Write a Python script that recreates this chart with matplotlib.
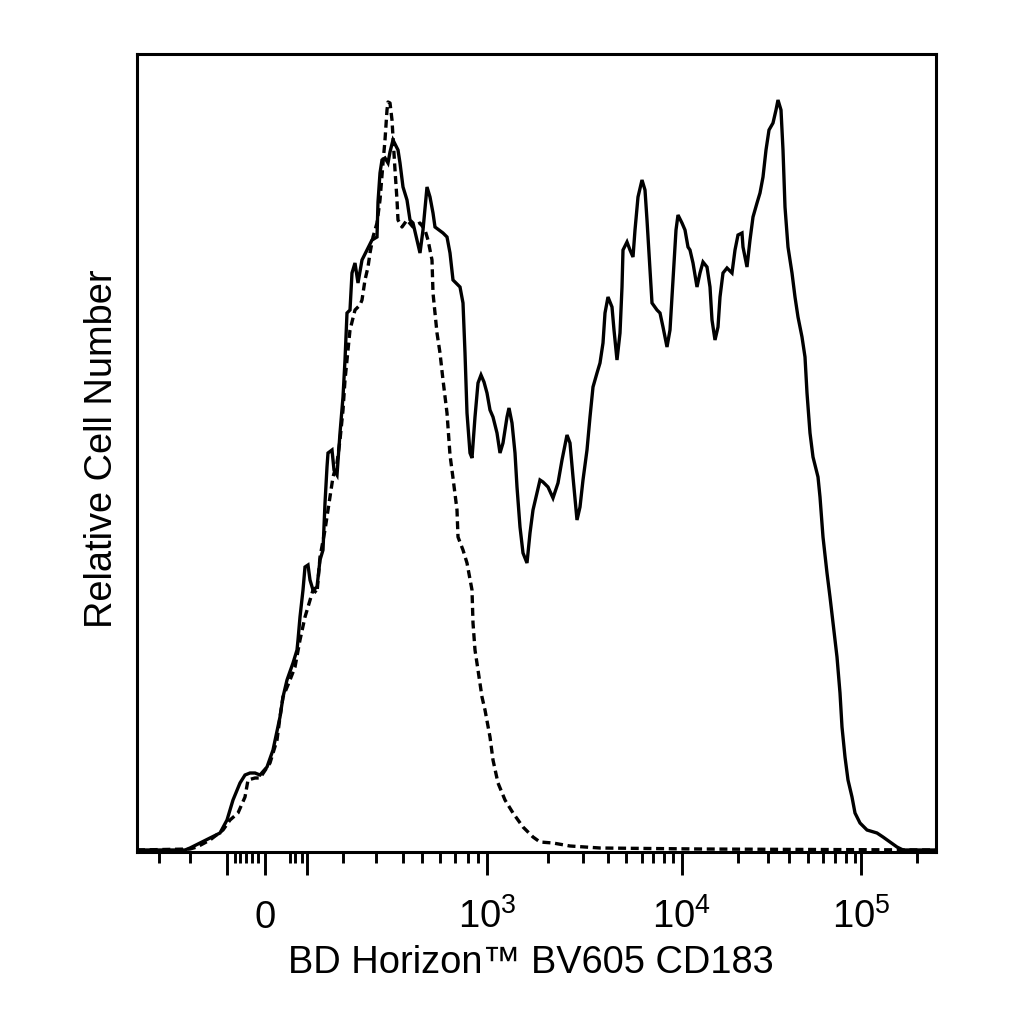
import matplotlib
matplotlib.use("Agg")
import matplotlib.pyplot as plt

plt.rcParams['font.family'] = ['Liberation Sans', 'DejaVu Sans']
plt.rcParams['mathtext.fontset'] = 'custom'
plt.rcParams['mathtext.rm'] = 'Liberation Sans'
plt.rcParams['mathtext.it'] = 'Liberation Sans:italic'
plt.rcParams['mathtext.bf'] = 'Liberation Sans:bold'

# ---- data (biexponential display channel vs relative count) ----
stained_channel = [0, 48, 53, 63, 73, 83, 90, 96, 103, 108, 113, 118, 123, 130, 136, 143, 146, 150,
                   156, 160, 161, 163, 166, 168, 171, 173, 176, 180, 183, 186, 188, 190, 191, 195,
                   197, 200, 203, 206, 208, 210, 213, 215, 218, 221, 225, 230, 235, 240, 241, 243,
                   245, 248, 251, 253, 256, 261, 263, 266, 270, 273, 276, 280, 283, 286, 290, 293,
                   296, 298, 306, 310, 313, 316, 323, 326, 328, 330, 333, 335, 338, 341, 344, 347,
                   350, 353, 356, 360, 363, 366, 370, 372, 375, 378, 380, 383, 386, 390, 393, 396,
                   400, 403, 406, 411, 416, 421, 425, 430, 433, 436, 440, 443, 446, 450, 453, 456,
                   460, 463, 466, 468, 471, 475, 477, 480, 483, 485, 486, 490, 493, 496, 498, 501,
                   505, 508, 510, 513, 515, 520, 523, 526, 530, 533, 536, 539, 541, 545, 548, 551,
                   553, 556, 560, 563, 566, 570, 573, 575, 578, 581, 583, 586, 590, 595, 598, 601,
                   605, 606, 610, 613, 616, 620, 623, 626, 629, 632, 636, 639, 641, 644, 646, 648,
                   651, 655, 658, 661, 665, 668, 670, 673, 676, 681, 683, 686, 690, 693, 696, 700,
                   703, 705, 708, 711, 715, 718, 723, 730, 740, 746, 753, 760, 766, 799]
stained_count = [2, 2, 4, 9, 14, 19, 32, 52, 69, 77, 79, 79, 77, 85, 102, 135, 155, 172,
                 189, 202, 212, 235, 262, 285, 287, 272, 262, 265, 292, 302, 349, 385, 399, 402,
                 382, 377, 419, 455, 492, 539, 542, 579, 589, 569, 592, 602, 612, 615, 650, 679,
                 692, 694, 689, 700, 712, 702, 689, 665, 652, 632, 629, 612, 599, 622, 665, 655,
                 639, 625, 619, 615, 599, 572, 565, 549, 499, 439, 399, 394, 435, 469, 477, 470,
                 459, 442, 435, 419, 399, 409, 435, 444, 429, 399, 365, 325, 299, 289, 319, 342,
                 359, 372, 370, 365, 354, 369, 392, 417, 409, 375, 332, 345, 372, 402, 435, 465,
                 479, 489, 509, 539, 555, 545, 522, 492, 519, 565, 602, 610, 602, 595, 622, 655,
                 672, 662, 632, 582, 549, 542, 539, 525, 505, 522, 572, 622, 637, 629, 622, 605,
                 602, 589, 565, 579, 590, 585, 565, 532, 512, 525, 555, 579, 584, 579, 602, 617,
                 619, 605, 585, 612, 635, 649, 659, 675, 702, 722, 729, 742, 752, 742, 702, 645,
                 605, 579, 555, 535, 515, 495, 459, 419, 395, 375, 355, 315, 279, 255, 229, 195,
                 159, 125, 95, 72, 55, 39, 29, 22, 19, 15, 10, 5, 2, 2]

control_channel = [0, 53, 60, 73, 86, 93, 101, 108, 111, 118, 123, 133, 140, 143, 146, 153, 158,
                   163, 168, 171, 176, 180, 183, 188, 191, 196, 200, 203, 206, 208, 213, 218, 223,
                   225, 228, 231, 233, 236, 240, 243, 246, 248, 250, 251, 253, 255, 256, 258, 260,
                   261, 265, 270, 276, 283, 288, 291, 295, 296, 298, 300, 303, 306, 310, 313, 316,
                   320, 321, 326, 330, 335, 336, 338, 341, 345, 348, 353, 356, 361, 368, 376, 386,
                   396, 403, 416, 433, 463, 563, 799]
control_count = [2, 3, 5, 12, 22, 32, 39, 55, 72, 74, 74, 89, 112, 135, 155, 172, 185,
                 212, 235, 245, 262, 259, 295, 322, 342, 375, 389, 412, 442, 472, 522, 542, 547,
                 552, 572, 585, 599, 615, 629, 652, 689, 712, 742, 750, 749, 732, 715, 682, 652,
                 632, 625, 632, 625, 629, 622, 612, 592, 559, 539, 519, 499, 472, 439, 397, 374,
                 342, 315, 302, 289, 262, 229, 202, 182, 155, 142, 115, 92, 69, 52, 39, 25,
                 15, 10, 9, 6, 4, 3, 2]

major_tick_channels = [90, 128, 170, 350, 545, 724]
major_tick_labels = ['', '0', '', r'$10^3$', r'$10^4$', r'$10^5$']
minor_tick_channels = [22, 53, 98, 103, 109, 115, 121, 153, 158, 165,
                       206, 239, 266, 285, 303, 318, 331, 341,
                       411, 446, 471, 489, 505, 516, 527, 536,
                       601, 631, 652, 671, 686, 698, 709, 718, 780]

x_label = 'BD Horizon\u2122 BV605 CD183'
y_label = 'Relative Cell Number'

# ---- figure ----
fig = plt.figure(figsize=(10.24, 10.24), dpi=100)
ax = fig.add_axes([137/1024, 1 - 852/1024, 799/1024, 798/1024])

ax.plot(stained_channel, stained_count, color='black', lw=2.4, solid_joinstyle='miter')
ax.plot(control_channel, control_count, color='black', lw=2.4, linestyle=(0, (2.4, 1.4)))

ax.set_xlim(0, 799)
ax.set_ylim(0, 798)

for s in ax.spines.values():
    s.set_linewidth(2.2)

ax.set_yticks([])
ax.set_xticks(major_tick_channels)
ax.set_xticklabels(major_tick_labels, fontsize=27.5)
ax.set_xticks(minor_tick_channels, minor=True)
ax.tick_params(axis='x', which='major', direction='out', length=16.5, width=2.1, pad=38)
ax.tick_params(axis='x', which='minor', direction='out', length=8, width=2.1)
for lab in ax.get_xticklabels():
    lab.set_verticalalignment('baseline')

ax.set_xlabel(x_label, fontsize=27.4)
ax.xaxis.set_label_coords((531 - 137) / 799, (852 - 973) / 798)
ax.xaxis.label.set_verticalalignment('baseline')

ax.set_ylabel(y_label, fontsize=27.4)
ax.yaxis.set_label_coords((112 - 137) / 799, (852 - 449) / 798)
ax.yaxis.label.set_rotation_mode('anchor')
ax.yaxis.label.set_verticalalignment('baseline')

fig.savefig('out.png', dpi=100, facecolor='white')
